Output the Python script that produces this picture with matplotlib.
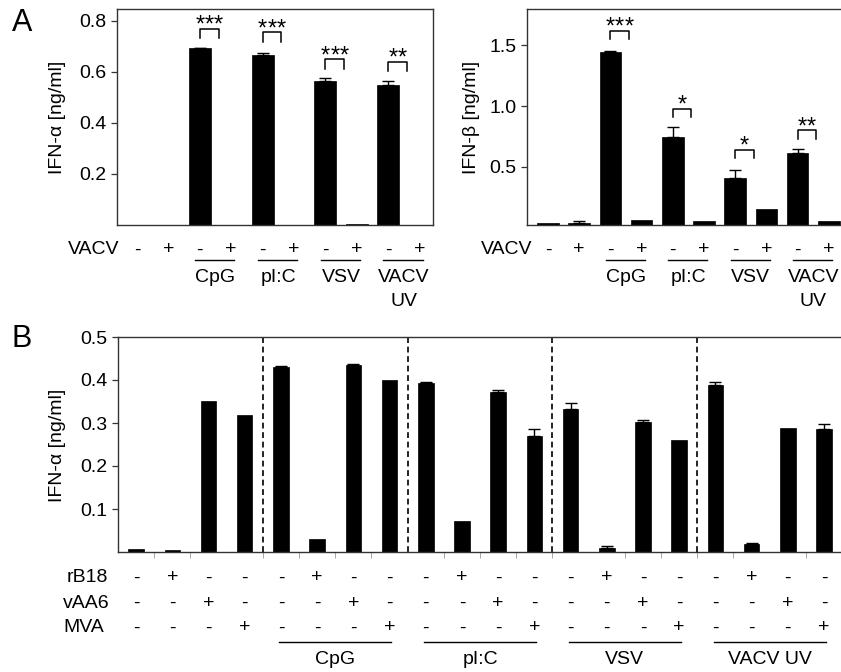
import matplotlib
matplotlib.use("Agg")
import matplotlib.pyplot as plt
import matplotlib.transforms as mtransforms
import numpy as np

plt.rcParams['font.family'] = ['Liberation Sans', 'DejaVu Sans']

# ---------------- data ----------------
# Panel A (left): IFN-alpha
a_groups = ["", "", "CpG", "CpG", "pI:C", "pI:C", "VSV", "VSV", "VACV UV", "VACV UV"]
a_vacv = ["-", "+", "-", "+", "-", "+", "-", "+", "-", "+"]
ifna_vals = [0.0, 0.0, 0.693, 0.0, 0.667, 0.0, 0.566, 0.003, 0.549, 0.0]
ifna_err = [0.0, 0.0, 0.002, 0.0, 0.008, 0.0, 0.009, 0.0, 0.017, 0.0]
ifna_sig = ["***", "***", "***", "**"]
ifna_sig_y = [0.770, 0.755, 0.649, 0.641]

# Panel A (right): IFN-beta
ifnb_vals = [0.034, 0.034, 1.447, 0.063, 0.747, 0.053, 0.409, 0.154, 0.610, 0.053]
ifnb_err = [0.0, 0.021, 0.003, 0.0, 0.082, 0.0, 0.064, 0.0, 0.033, 0.0]
ifnb_sig = ["***", "*", "*", "**"]
ifnb_sig_y = [1.618, 0.980, 0.638, 0.800]

a_group_names = ["CpG", "pI:C", "VSV", "VACV"]

# Panel B: IFN-alpha
b_rB18 = ["-", "+", "-", "-"] * 5
b_vAA6 = ["-", "-", "+", "-"] * 5
b_MVA = ["-", "-", "-", "+"] * 5
b_group_names = ["CpG", "pI:C", "VSV", "VACV UV"]
b_vals = [0.007, 0.004, 0.351, 0.318,
          0.430, 0.030, 0.435, 0.400,
          0.392, 0.071, 0.371, 0.269,
          0.333, 0.009, 0.302, 0.261,
          0.389, 0.019, 0.288, 0.285]
b_err = [0.0, 0.0, 0.0, 0.0,
         0.002, 0.0, 0.003, 0.0,
         0.004, 0.0, 0.005, 0.017,
         0.013, 0.004, 0.004, 0.0,
         0.006, 0.003, 0.0, 0.013]

# ---------------- figure ----------------
W, H = 841, 672
fig = plt.figure(figsize=(W / 100, H / 100), dpi=100)

def axrect(x0, y0, x1, y1):
    return [x0 / W, 1 - y1 / H, (x1 - x0) / W, (y1 - y0) / H]

def fy(y):
    return 1 - y / H

FS = 14
SPC = '#333333'

def style_axes(ax, right=True):
    for s in ax.spines.values():
        s.set_color(SPC)
        s.set_linewidth(1.0)
    ax.spines['right'].set_visible(right)
    ax.tick_params(axis='y', direction='out', length=4.5, width=0.9, pad=3,
                   labelsize=FS, color=SPC)
    ax.tick_params(axis='x', which='both', bottom=False, labelbottom=False)

def bars(ax, vals, errs, width):
    x = np.arange(len(vals))
    ax.bar(x, vals, width=width, color='black', edgecolor='black', linewidth=0.5, zorder=2)
    e = np.array(errs)
    mask = e > 0
    ax.errorbar(x[mask], np.array(vals)[mask], yerr=[np.zeros(mask.sum()), e[mask]],
                fmt='none', ecolor='black', elinewidth=1.0, capsize=4.5, capthick=1.0, zorder=3)

def brackets(ax, labels, tops, leg):
    for k, (lab, top) in enumerate(zip(labels, tops)):
        x0 = 2 + 2 * k
        x1 = x0 + 0.6
        ax.plot([x0, x0, x1, x1], [top - leg, top, top, top - leg], color='black',
                lw=1.1, clip_on=False, zorder=4)
        n = len(lab)
        step = 6.8  # points between stars
        for j in range(n):
            dx = (j - (n - 1) / 2) * step
            ax.annotate("*", xy=((x0 + x1) / 2, top), xytext=(dx, -2.0),
                        textcoords='offset points', ha='center', va='baseline',
                        fontsize=17, annotation_clip=False)

def a_labels(ax, vacv_right_px):
    tr = mtransforms.blended_transform_factory(ax.transData, fig.transFigure)
    fig.text(vacv_right_px / W, fy(249), "VACV", ha='right', va='center', fontsize=FS)
    for i, s in enumerate(a_vacv):
        ax.text(i, fy(250), s, transform=tr, ha='center', va='center', fontsize=FS)
    for k, g in enumerate(a_group_names):
        x0 = 2 + 2 * k
        ax.plot([x0 - 0.15, x0 + 1.1], [fy(260), fy(260)], transform=tr, color='black',
                lw=1.0, clip_on=False)
        ax.text(x0 + 0.5, fy(278), g, transform=tr, ha='center', va='center', fontsize=FS)
    ax.text(8.5, fy(301), "UV", transform=tr, ha='center', va='center', fontsize=FS)

# ---- Panel A left ----
ax1 = fig.add_axes(axrect(117, 9, 433, 225))
bars(ax1, ifna_vals, ifna_err, 0.7)
ax1.set_xlim(-0.64, 9.43)
ax1.set_ylim(0, 0.847)
ax1.set_yticks([0.2, 0.4, 0.6, 0.8])
ax1.set_yticklabels(["0.2", "0.4", "0.6", "0.8"])
style_axes(ax1, right=True)
brackets(ax1, ifna_sig, ifna_sig_y, 0.037)
a_labels(ax1, 119)
fig.text(57 / W, fy(117), "IFN-α [ng/ml]", rotation=90, ha='center', va='center', fontsize=FS)

# ---- Panel A right ----
ax2 = fig.add_axes(axrect(527, 9, 841, 225))
bars(ax2, ifnb_vals, ifnb_err, 0.69)
ax2.set_xlim(-0.67, 9.39)
ax2.set_ylim(0.02, 1.80)
ax2.set_yticks([0.5, 1.0, 1.5])
ax2.set_yticklabels(["0.5", "1.0", "1.5"])
style_axes(ax2, right=False)
brackets(ax2, ifnb_sig, ifnb_sig_y, 0.068)
a_labels(ax2, 532)
fig.text(471 / W, fy(117), "IFN-β [ng/ml]", rotation=90, ha='center', va='center', fontsize=FS)

# ---- Panel B ----
ax3 = fig.add_axes(axrect(118, 337, 841, 552))
bars(ax3, b_vals, b_err, 0.43)
ax3.set_xlim(-0.5, 19.47)
ax3.set_ylim(0, 0.5)
ax3.set_yticks([0.1, 0.2, 0.3, 0.4, 0.5])
ax3.set_yticklabels(["0.1", "0.2", "0.3", "0.4", "0.5"])
style_axes(ax3, right=False)
ax3.set_xticks(np.arange(0.5, 19, 1.0), minor=True)
ax3.tick_params(axis='x', which='minor', bottom=True, length=4, width=0.6, color='#999999',
                direction='out')
for xb in [3.5, 7.5, 11.5, 15.5]:
    ax3.axvline(xb, color='black', lw=1.2, linestyle=(0, (3.5, 2.2)), zorder=1)
fig.text(57 / W, fy(445), "IFN-α [ng/ml]", rotation=90, ha='center', va='center', fontsize=FS)

trb = mtransforms.blended_transform_factory(ax3.transData, fig.transFigure)
fig.text(108 / W, fy(578), "rB18", ha='right', va='center', fontsize=FS)
fig.text(63 / W, fy(603), "vAA6", ha='left', va='center', fontsize=FS)
fig.text(63 / W, fy(628), "MVA", ha='left', va='center', fontsize=FS)
for i in range(len(b_vals)):
    ax3.text(i, fy(578), b_rB18[i], transform=trb, ha='center', va='center', fontsize=FS)
    ax3.text(i, fy(603), b_vAA6[i], transform=trb, ha='center', va='center', fontsize=FS)
    ax3.text(i, fy(628), b_MVA[i], transform=trb, ha='center', va='center', fontsize=FS)
for k, g in enumerate(b_group_names):
    x0 = 4 + 4 * k
    ax3.plot([x0 - 0.05, x0 + 3.05], [fy(642), fy(642)], transform=trb, color='black',
             lw=1.0, clip_on=False)
    ax3.text(x0 + 1.5, fy(659), g, transform=trb, ha='center', va='center', fontsize=FS)

# panel letters
fig.text(22 / W, fy(23), "A", ha='center', va='center', fontsize=22)
fig.text(22 / W, fy(339), "B", ha='center', va='center', fontsize=22)

fig.savefig("out.png", dpi=100)
